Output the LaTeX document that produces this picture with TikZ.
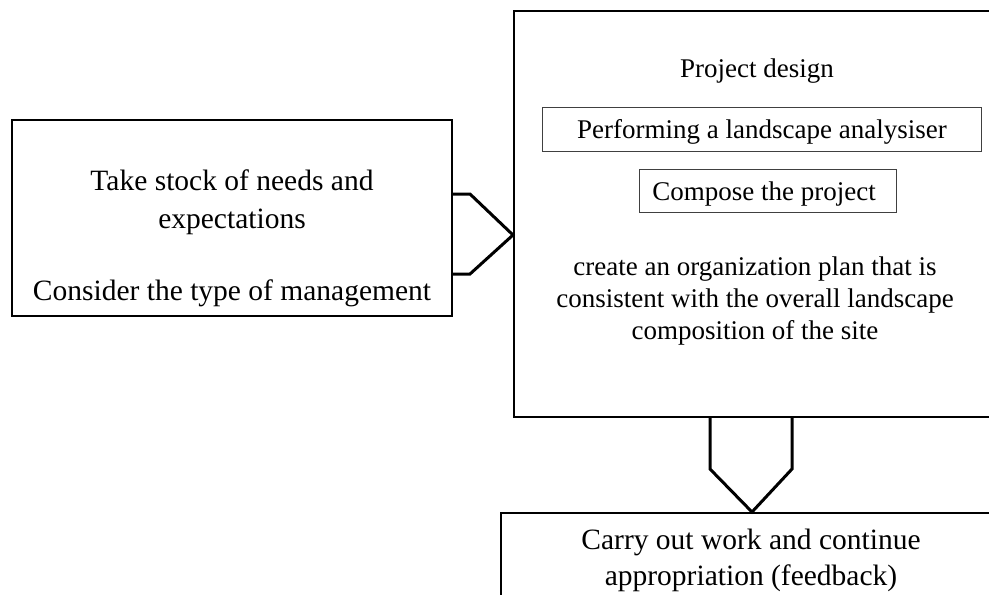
\documentclass[tikz,border=0pt]{standalone}
\usepackage{fontspec}
\setmainfont{Liberation Serif}
\begin{document}
\begin{tikzpicture}[x=1pt,y=-1pt,
  bigbox/.style={draw=black, line width=2pt, inner sep=0pt},
  smallbox/.style={draw=black!75, line width=1pt, inner sep=0pt},
  txt/.style={font=\fontsize{27}{32}\selectfont, align=center, inner sep=0pt},
  bigtxt/.style={font=\fontsize{29.5}{38}\selectfont, align=center, inner sep=0pt},
  fatarrow/.style={draw=black, line width=3pt, line join=miter}]
\useasboundingbox (0,0) rectangle (989,595);
\clip (0,0) rectangle (989,595);
% boxes
\node[bigbox, minimum width=440pt, minimum height=196pt] (lbox) at (232,218) {};
\node[bigbox, minimum width=496pt, minimum height=406pt] (rbox) at (762,214) {};
\node[bigbox, minimum width=500pt, minimum height=140pt] (bbox) at (751,583) {};
\node[smallbox, minimum width=439pt, minimum height=44pt] (perf) at (761.5,129) {};
\node[smallbox, minimum width=257pt, minimum height=43.5pt] (comp) at (767.5,191) {};
% texts
\node[bigtxt] (t1) at (232,202) {Take stock of needs and\\expectations};
\node[bigtxt] (t2) at (232,293) {Consider the type of management};
\node[txt] (t3) at (757,71) {Project design};
\node[txt] (t4) at (762,132) {Performing a landscape analysiser};
\node[txt] (t5) at (764,194) {Compose the project};
\node[txt] (t6) at (755,301) {create an organization plan that is\\consistent with the overall landscape\\composition of the site};
\node[bigtxt, font=\fontsize{29.5}{36}\selectfont] (t7) at (751,560) {Carry out work and continue\\appropriation (feedback)};
% arrows
\draw[fatarrow] (lbox.east |- 0,194) -- (470,194) -- (rbox.west |- 0,235) -- (470,274) -- (lbox.east |- 0,274);
\draw[fatarrow] (710,0 |- rbox.south) -- (710,469) -- (752,0 |- bbox.north) -- (792,469) -- (792,0 |- rbox.south);
\end{tikzpicture}
\end{document}
